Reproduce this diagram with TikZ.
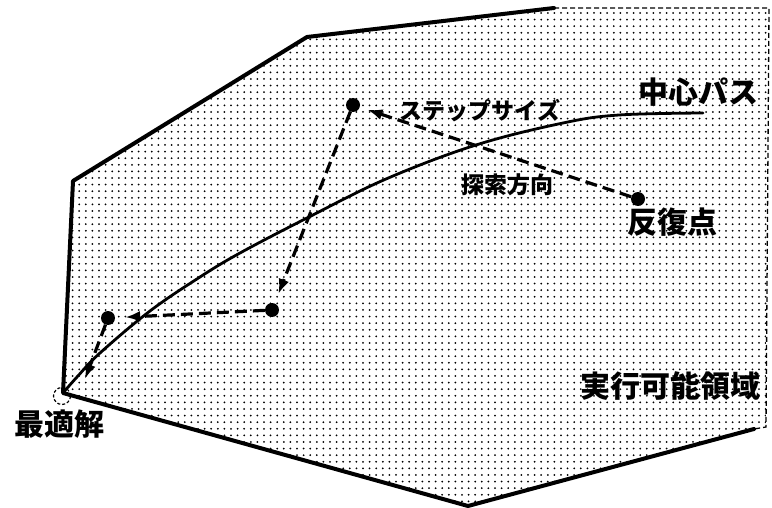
\documentclass[tikz,border=0pt]{standalone}
\usepackage{fontspec}
\newfontfamily\jp{Noto Sans CJK JP}
\usetikzlibrary{patterns,arrows.meta}
\pgfdeclarepatternformonly{feasdots}{\pgfqpoint{-1.5pt}{-1.5pt}}{\pgfqpoint{1.5pt}{1.5pt}}{\pgfqpoint{6.6pt}{6.6pt}}{%
  \pgfpathcircle{\pgfqpoint{0pt}{0pt}}{1pt}\pgfusepath{fill}}
\tikzset{
  edge/.style={line width=4pt, line join=round, line cap=round},
  bnd/.style={line width=1.3pt, dash pattern=on 5pt off 3pt},
  cpath/.style={line width=2.8pt, line cap=round},
  steparrow/.style={line width=3.2pt, dash pattern=on 12pt off 6pt, -{Latex[length=15pt,width=11pt]}},
  iter/.style={circle, fill=black, inner sep=0pt, minimum size=14pt},
  optc/.style={circle, draw=black, line width=1.2pt, dash pattern=on 3pt off 2pt, inner sep=0pt, minimum size=17pt},
  biglbl/.style={font=\jp\bfseries\fontsize{30}{30}\selectfont, inner sep=0pt},
  smalllbl/.style={font=\jp\bfseries\fontsize{23}{23}\selectfont, inner sep=0pt}
}
\begin{document}
\begin{tikzpicture}[x=1pt,y=-1pt]
\useasboundingbox (0,0) rectangle (772,508);
% feasible region
\fill[pattern=feasdots, pattern color=black]
  (63,393) -- (73,181) -- (307,37) -- (554,8) -- (769,8) -- (766,427) -- (754,429) -- (468,506) -- cycle;
\draw[edge] (754,429) -- (468,506) -- (63,393) -- (73,181) -- (307,37) -- (554,8);
\draw[bnd] (554,8) -- (769,8) -- (766,427) -- (754,429);
% central path
\draw[cpath] plot[smooth, tension=0.6] coordinates {(63,393) (77,377) (100,353) (150,311) (200,277) (240,253) (307,218) (386,179) (476,145) (563,123) (619,115) (703,113)};
% points
\node[optc] (opt) at (62,396) {};
\node[iter] (it0) at (638,199) {};
\node[iter] (it1) at (353,105) {};
\node[iter] (it2) at (272,310) {};
\node[iter] (it3) at (108,318) {};
\coordinate (tip3) at (85,379);
% steps
\draw[steparrow, shorten >=8pt] (it0) -- (it1);
\draw[steparrow, shorten >=10pt] (it1) -- (it2);
\draw[steparrow, shorten >=10pt] (it2) -- (it3);
\draw[steparrow] (it3) -- (tip3);
% labels
\node[biglbl] (lcp) at (698,92) {中心パス};
\node[biglbl] (lit) at (672,222) {反復点};
\node[biglbl] (lfr) at (670,386) {実行可能領域};
\node[biglbl] (lopt) at (60,424) {最適解};
\node[smalllbl] (lss) at (480,111) {ステップサイズ};
\node[smalllbl] (lsd) at (507,185) {探索方向};
\end{tikzpicture}
\end{document}
